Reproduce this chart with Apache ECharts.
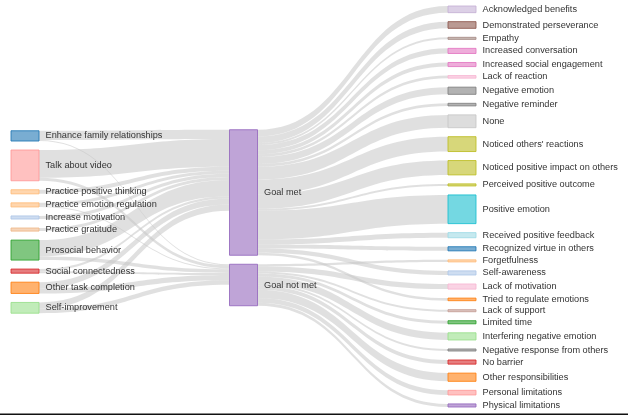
<!DOCTYPE html>
<html>
<head>
<meta charset="utf-8">
<script src="https://cdn.jsdelivr.net/npm/echarts@6/dist/echarts.min.js"></script>
<style>
html,body{margin:0;padding:0;background:#ffffff;}
#chart{width:628px;height:418px;}
</style>
</head>
<body>
<div id="chart"></div>
<script>
// ---------------- DATA ----------------
const sourceCategories = [
  'Enhance family relationships',
  'Talk about video',
  'Practice positive thinking',
  'Practice emotion regulation',
  'Increase motivation',
  'Practice gratitude',
  'Prosocial behavior',
  'Social connectedness',
  'Other task completion',
  'Self-improvement'
];
const toGoalMet =    [9, 27, 4, 3, 3, 3, 16, 2, 6, 6];
const toGoalNotMet = [1, 3, 0, 1, 0, 0, 3.5, 2, 5, 4.5];

const goalCategories = ['Goal met', 'Goal not met'];

const resultCategories = [
  'Acknowledged benefits',
  'Demonstrated perseverance',
  'Empathy',
  'Increased conversation',
  'Increased social engagement',
  'Lack of reaction',
  'Negative emotion',
  'Negative reminder',
  'None',
  "Noticed others' reactions",
  'Noticed positive impact on others',
  'Perceived positive outcome',
  'Positive emotion',
  'Received positive feedback',
  'Recognized virtue in others',
  'Forgetfulness',
  'Self-awareness',
  'Lack of motivation',
  'Tried to regulate emotions',
  'Lack of support',
  'Limited time',
  'Interfering negative emotion',
  'Negative response from others',
  'No barrier',
  'Other responsibilities',
  'Personal limitations',
  'Physical limitations'
];
const resultValues = [6.5, 6.5, 2, 5, 4, 2.5, 7, 2.5, 12.5, 14.5, 14, 2, 28, 5, 4,
                      2, 4, 5, 2.5, 2, 3, 7, 2, 4, 8, 4.5, 3];
const resultFromGoal = [0,0,0,0,0,0,0,0,0,0,0,0,0,0,0,
                        1,0,1,0,1,1,1,1,1,1,1,1]; // index into goalCategories

// ---------------- STYLE ----------------
const baseColors = {
  'Enhance family relationships': '#1f77b4',
  'Talk about video': '#ff9896',
  'Practice positive thinking': '#ffbb78',
  'Practice emotion regulation': '#ffbb78',
  'Increase motivation': '#aec7e8',
  'Practice gratitude': '#f0b98a',
  'Prosocial behavior': '#2ca02c',
  'Social connectedness': '#d62728',
  'Other task completion': '#ff7f0e',
  'Self-improvement': '#98df8a',
  'Goal met': '#9467bd',
  'Goal not met': '#9467bd',
  'Acknowledged benefits': '#c5b0d5',
  'Demonstrated perseverance': '#8c564b',
  'Empathy': '#a58a84',
  'Increased conversation': '#e377c2',
  'Increased social engagement': '#e377c2',
  'Lack of reaction': '#f7b6d2',
  'Negative emotion': '#7f7f7f',
  'Negative reminder': '#7f7f7f',
  'None': '#c7c7c7',
  "Noticed others' reactions": '#bcbd22',
  'Noticed positive impact on others': '#bcbd22',
  'Perceived positive outcome': '#bcbd22',
  'Positive emotion': '#17becf',
  'Received positive feedback': '#9edae5',
  'Recognized virtue in others': '#1f77b4',
  'Forgetfulness': '#ffbb78',
  'Self-awareness': '#aec7e8',
  'Lack of motivation': '#f7b6d2',
  'Tried to regulate emotions': '#ff7f0e',
  'Lack of support': '#c49c94',
  'Limited time': '#2ca02c',
  'Interfering negative emotion': '#98df8a',
  'Negative response from others': '#7f7f7f',
  'No barrier': '#d62728',
  'Other responsibilities': '#ff7f0e',
  'Personal limitations': '#ff9896',
  'Physical limitations': '#9467bd'
};
function rgba(hex, a) {
  const n = parseInt(hex.slice(1), 16);
  return 'rgba(' + ((n >> 16) & 255) + ',' + ((n >> 8) & 255) + ',' + (n & 255) + ',' + a + ')';
}
// vertical offsets of the first two columns inside the layout box (layout, not data)
const columnOffset = [113, 112];

// ---------------- BUILD ----------------
function nodeOf(name) {
  const c = baseColors[name] || '#999999';
  return {
    name: name,
    itemStyle: { color: rgba(c, 0.6), borderColor: rgba(c, 0.85), borderWidth: 1 }
  };
}
const nodes = [];
columnOffset.forEach(function (v, i) {
  nodes.push({
    name: '\u200b'.repeat(i + 1), value: v, depth: i,
    itemStyle: { color: 'rgba(0,0,0,0)', borderWidth: 0 },
    label: { show: false }
  });
});
sourceCategories.forEach(function (n) { nodes.push(nodeOf(n)); });
goalCategories.forEach(function (n) { nodes.push(nodeOf(n)); });
resultCategories.forEach(function (n) { nodes.push(nodeOf(n)); });

const links = [];
sourceCategories.forEach(function (s, i) {
  if (toGoalMet[i] > 0) links.push({ source: s, target: goalCategories[0], value: toGoalMet[i] });
  if (toGoalNotMet[i] > 0) links.push({ source: s, target: goalCategories[1], value: toGoalNotMet[i] });
});
resultCategories.forEach(function (r, i) {
  links.push({ source: goalCategories[resultFromGoal[i]], target: r, value: resultValues[i] });
});

const chart = echarts.init(document.getElementById('chart'), null, { renderer: 'canvas' });
chart.setOption({
  backgroundColor: '#ffffff',
  animation: false,
  tooltip: { show: false },
  series: [{
    type: 'sankey',
    left: 11, right: 152, top: 6, bottom: 11,
    nodeWidth: 28,
    nodeGap: 9,
    layoutIterations: 0,
    draggable: false,
    emphasis: { disabled: true },
    label: {
      show: true,
      position: 'right',
      distance: 6,
      fontSize: 9.2,
      fontFamily: '"Liberation Sans", Arial, sans-serif',
      color: '#333333'
    },
    lineStyle: { color: '#c6c6c6', opacity: 0.55, curveness: 0.5 },
    data: nodes,
    links: links
  }],
  graphic: [{
    type: 'rect',
    shape: { x: 0, y: 413.5, width: 628, height: 1.5 },
    style: { fill: '#111111' },
    silent: true
  }]
});
</script>
</body>
</html>
